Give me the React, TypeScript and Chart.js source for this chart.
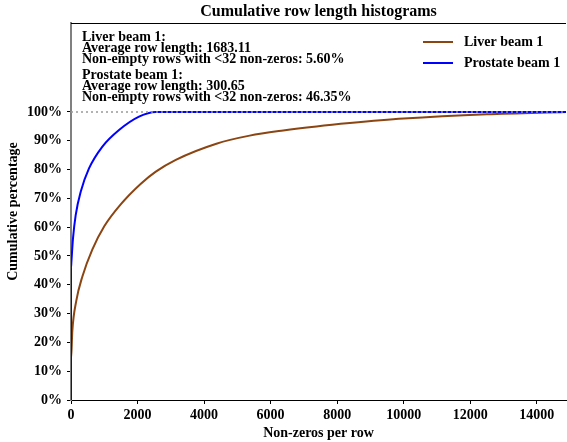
import React, { useEffect, useRef } from "react";
import { Chart, registerables } from "chart.js";
Chart.register(...registerables);

const liverX = [0, 0, 40, 160, 340, 640, 1000, 1500, 2100, 2550, 3150, 4370, 5370, 6380, 7380, 8380, 10000, 12500, 14880];
const liverY = [0, 14, 24, 34.5, 42.8, 52.2, 60.3, 68, 75.1, 79.3, 83.4, 89.0, 91.8, 93.6, 95.0, 96.15, 97.7, 99.2, 100];
const prostateX = [0, 0, 12, 60, 141, 292, 541, 944, 1444, 2045, 2547, 14880];
const prostateY = [0, 46, 48, 56.1, 64.2, 72.3, 80.4, 88, 93.75, 98.4, 100, 100];
const refX = [0, 14880];
const refY = [100, 100];
const xTicks = [0, 2000, 4000, 6000, 8000, 10000, 12000, 14000];
const yTicks = [0, 10, 20, 30, 40, 50, 60, 70, 80, 90, 100];
const seriesNames = ["Liver beam 1", "Prostate beam 1"];
const annotationLines = [
  ["Liver beam 1:", "Average row length: 1683.11", "Non-empty rows with <32 non-zeros: 5.60%"],
  ["Prostate beam 1:", "Average row length: 300.65", "Non-empty rows with <32 non-zeros: 46.35%"],
];
const chartTitle = "Cumulative row length histograms";

const FONT = '"Liberation Serif", "Times New Roman", serif';
const BROWN = "#8B4513";
const BLUE = "#0000FF";

const zip = (xs: number[], ys: number[]) => xs.map((x, i) => ({ x, y: ys[i] }));

export default function App() {
  const ref = useRef<HTMLCanvasElement | null>(null);
  useEffect(() => {
    document.body.style.margin = "0";
    const canvas = ref.current!;
    const overlay = {
      id: "overlay",
      afterDraw(chart: any) {
        const ctx = chart.ctx;
        const a = chart.chartArea;
        ctx.save();
        ctx.strokeStyle = "#000";
        ctx.lineWidth = 1;
        ctx.beginPath();
        ctx.moveTo(a.left, a.top + 0.5);
        ctx.lineTo(a.right, a.top + 0.5);
        ctx.stroke();
        ctx.fillStyle = "#000";
        ctx.font = `bold 16px ${FONT}`;
        ctx.textAlign = "center";
        ctx.textBaseline = "middle";
        ctx.fillText(chartTitle, (a.left + a.right) / 2, 12);
        ctx.font = `bold 14px ${FONT}`;
        ctx.textAlign = "left";
        const ys = [[37, 48, 59], [75, 86, 97]];
        annotationLines.forEach((grp, g) => {
          grp.forEach((t, i) => ctx.fillText(t, 82, ys[g][i]));
        });
        const cols = [BROWN, BLUE];
        const ly = [42, 63];
        seriesNames.forEach((n, i) => {
          ctx.strokeStyle = cols[i];
          ctx.lineWidth = 2;
          ctx.beginPath();
          ctx.moveTo(423, ly[i]);
          ctx.lineTo(453, ly[i]);
          ctx.stroke();
          ctx.fillStyle = "#000";
          ctx.fillText(n, 464, ly[i]);
        });
        ctx.restore();
      },
    };
    const tickFont = { family: FONT, size: 14, weight: "bold" };
    const chart = new Chart(canvas, {
      type: "line",
      data: {
        datasets: [
          {
            label: "ref",
            data: zip(refX, refY),
            borderColor: "#999999",
            borderWidth: 1.5,
            borderDash: [2, 3],
            pointRadius: 0,
            order: 0,
          },
          {
            label: seriesNames[0],
            data: zip(liverX, liverY),
            borderColor: BROWN,
            borderWidth: 2,
            pointRadius: 0,
            cubicInterpolationMode: "monotone",
            order: 2,
          },
          {
            label: seriesNames[1],
            data: zip(prostateX, prostateY),
            borderColor: BLUE,
            borderWidth: 2,
            pointRadius: 0,
            cubicInterpolationMode: "monotone",
            order: 1,
          },
        ],
      } as any,
      options: {
        animation: false,
        responsive: false,
        layout: { padding: { top: 23, right: 1, left: 0, bottom: 0 } },
        plugins: { legend: { display: false }, title: { display: false }, tooltip: { enabled: false } },
        scales: {
          x: {
            type: "linear",
            min: 0,
            max: 14880,
            afterBuildTicks: (s: any) => {
              s.ticks = xTicks.map((v) => ({ value: v }));
            },
            afterFit: (s: any) => {
              s.height = 42;
            },
            ticks: {
              font: tickFont,
              color: "#000",
              maxRotation: 0,
              autoSkip: false,
              padding: 3,
              callback: (v: any) => String(v),
            },
            grid: { drawOnChartArea: false, tickLength: 4, tickColor: "#000", tickWidth: 1 },
            border: { color: "#000", width: 1 },
            title: {
              display: true,
              text: "Non-zeros per row",
              font: tickFont,
              color: "#000",
              padding: { top: 0, bottom: 0 },
            },
          },
          y: {
            type: "linear",
            min: 0,
            max: 130.9,
            afterBuildTicks: (s: any) => {
              s.ticks = yTicks.map((v) => ({ value: v }));
            },
            afterFit: (s: any) => {
              s.width = 71;
            },
            ticks: {
              font: tickFont,
              color: "#000",
              padding: 5,
              callback: (v: any) => v + "%",
            },
            grid: { drawOnChartArea: false, tickLength: 4, tickColor: "#000", tickWidth: 1 },
            border: { color: "#808080", width: 2 },
            title: {
              display: true,
              text: "Cumulative percentage",
              font: tickFont,
              color: "#000",
              padding: { top: 5, bottom: 0 },
            },
          },
        },
      } as any,
      plugins: [overlay],
    });
    return () => chart.destroy();
  }, []);
  return (
    <div style={{ position: "absolute", left: 0, top: 0 }}>
      <canvas ref={ref} width={567} height={442} style={{ display: "block", width: 567, height: 442 }} />
    </div>
  );
}
